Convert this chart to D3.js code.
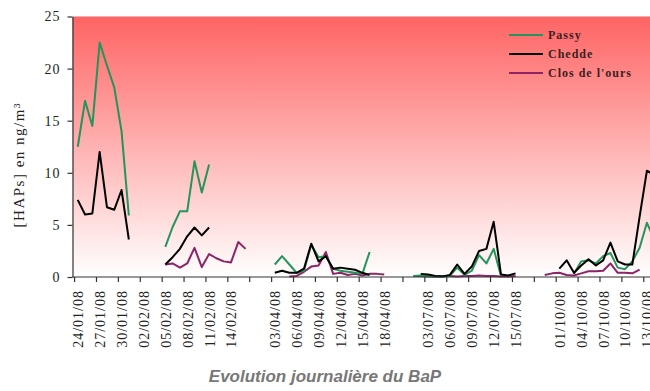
<!DOCTYPE html>
<html>
<head>
<meta charset="utf-8">
<script src="https://cdn.jsdelivr.net/npm/d3@7"></script>
<style>
  html, body { margin: 0; padding: 0; background: #ffffff; }
  svg { display: block; }
  svg text { font-family: "Liberation Serif", "Times New Roman", "DejaVu Serif", serif; }
  svg text.title { font-family: "Liberation Sans", Arial, sans-serif; }
</style>
</head>
<body>
<div id="chart"></div>
<script>
// ---- DATA ----
const categories = [
  "24/01/08","25/01/08","26/01/08","27/01/08","28/01/08","29/01/08","30/01/08","31/01/08",
  "01/02/08","02/02/08","03/02/08","04/02/08","05/02/08","06/02/08","07/02/08","08/02/08",
  "09/02/08","10/02/08","11/02/08","12/02/08","13/02/08","14/02/08","15/02/08","16/02/08",
  "",
  "01/04/08","02/04/08","03/04/08","04/04/08","05/04/08","06/04/08","07/04/08","08/04/08",
  "09/04/08","10/04/08","11/04/08","12/04/08","13/04/08","14/04/08","15/04/08","16/04/08",
  "17/04/08","18/04/08","19/04/08","20/04/08",
  "",
  "01/07/08","02/07/08","03/07/08","04/07/08","05/07/08","06/07/08","07/07/08","08/07/08",
  "09/07/08","10/07/08","11/07/08","12/07/08","13/07/08","14/07/08","15/07/08","16/07/08",
  "17/07/08",
  "",
  "29/09/08","30/09/08","01/10/08","02/10/08","03/10/08","04/10/08","05/10/08","06/10/08",
  "07/10/08","08/10/08","09/10/08","10/10/08","11/10/08","12/10/08","13/10/08","14/10/08",
  "15/10/08"
];

const passy = [
  12.5,16.9,14.5,22.5,20.3,18.2,14.0,5.9,
  null,null,null,null,2.9,4.8,6.3,6.3,
  11.1,8.1,10.8,null,null,null,null,null,
  null,
  null,null,1.2,2.0,1.2,0.4,0.6,3.1,
  1.9,2.0,0.8,0.6,0.5,0.4,0.3,2.4,
  null,null,null,null,
  null,
  0.1,0.15,0.1,0.05,0.05,0.1,0.9,0.2,
  0.6,2.1,1.3,2.7,0.1,null,null,null,
  null,
  null,
  null,null,null,null,0.3,1.5,1.6,1.3,
  2.0,2.3,0.9,0.75,1.5,2.8,5.2,3.6,
  null
];

const chedde = [
  7.4,6.0,6.1,12.0,6.7,6.45,8.35,3.6,
  null,null,null,null,1.2,1.9,2.7,3.9,
  4.75,4.0,4.75,null,null,null,null,null,
  null,
  null,null,0.4,0.6,0.4,0.4,0.8,3.2,
  1.5,2.0,0.8,0.9,0.8,0.7,0.4,0.2,
  null,null,null,null,
  null,
  null,0.3,0.25,0.1,0.05,0.2,1.2,0.3,
  1.0,2.5,2.7,5.3,0.25,0.15,0.35,null,
  null,
  null,
  null,null,0.8,1.6,0.4,1.1,1.7,1.1,
  1.6,3.3,1.5,1.2,1.2,5.8,10.2,9.8,
  null
];

const closDeLours = [
  null,null,null,null,null,null,null,null,
  null,null,null,null,1.2,1.3,0.9,1.3,
  2.8,0.95,2.2,1.8,1.5,1.4,3.35,2.7,
  null,
  null,null,null,null,0.05,0.1,0.5,1.0,
  1.1,2.4,0.3,0.4,0.2,0.3,0.15,0.3,
  0.3,0.25,null,null,
  null,
  0.1,0.1,0.05,0.05,0.1,0.1,0.05,0.1,
  0.1,0.15,0.1,0.1,0.05,0.05,0.1,null,
  null,
  null,
  0.2,0.35,0.4,0.2,0.15,0.35,0.55,0.55,
  0.6,1.3,0.4,0.4,0.35,0.7,null,null,
  null
];

const seriesNames = ["Passy", "Chedde", "Clos de l'ours"];
const seriesColors = ["#23945a", "#000000", "#8c2466"];
const yTicks = [0, 5, 10, 15, 20, 25];
const titleText = "Evolution journalière du BaP";
const yTitle = "[HAPs] en ng/m³";

// ---- LAYOUT ----
const W = 650, H = 391;
const plotLeft = 72.5, plotTop = 16.5, plotBottom = 277;
const catW = 7.297;
const N = categories.length;
const serif = "'Liberation Serif', 'Times New Roman', 'DejaVu Serif', serif";

const svg = d3.select("#chart").append("svg")
  .attr("width", W).attr("height", H);

const defs = svg.append("defs");
const grad = defs.append("linearGradient").attr("id", "bg")
  .attr("x1", 0).attr("y1", 0).attr("x2", 0).attr("y2", 1);
grad.append("stop").attr("offset", "0%").attr("stop-color", "#ff6464");
grad.append("stop").attr("offset", "100%").attr("stop-color", "#ffffff");

const xBand = d3.scaleBand()
  .domain(d3.range(N))
  .range([plotLeft + 1.6, plotLeft + 1.6 + N * catW])
  .padding(0);
const xc = i => xBand(i) + xBand.bandwidth() / 2;
const xLin = d3.scaleLinear().domain([-0.5, N - 0.5]).range(xBand.range());

const y = d3.scaleLinear().domain([0, 25]).range([plotBottom, plotTop]);

// background
svg.append("rect")
  .attr("x", plotLeft).attr("y", plotTop)
  .attr("width", W - plotLeft).attr("height", plotBottom - plotTop)
  .attr("fill", "url(#bg)");

// lines
const seriesData = [passy, chedde, closDeLours];
const line = d3.line()
  .defined(d => d.v !== null)
  .x(d => xc(d.i))
  .y(d => y(d.v));

const order = [2, 0, 1];
order.forEach(k => {
  const pts = seriesData[k].map((v, i) => ({ i, v }));
  svg.append("path")
    .datum(pts)
    .attr("d", line)
    .attr("fill", "none")
    .attr("stroke", seriesColors[k])
    .attr("stroke-width", 2)
    .attr("stroke-linejoin", "round");
});

// y axis
const yAxis = svg.append("g")
  .attr("transform", `translate(${plotLeft},0)`)
  .call(d3.axisLeft(y).tickValues(yTicks).tickSize(5).tickSizeOuter(0).tickPadding(7));
yAxis.attr("font-family", serif);
yAxis.select(".domain").attr("stroke", "#333").attr("stroke-width", 1.2);
yAxis.selectAll(".tick line").attr("stroke", "#333").attr("stroke-width", 1.2);
yAxis.selectAll(".tick text")
  .attr("font-family", serif)
  .style("font-size", "14px")
  .style("letter-spacing", "1px")
  .attr("fill", "#222");

// x axis: ticks at category boundaries every 3 categories
const tickBounds = d3.range(-0.5, N, 3);
const xAxis = svg.append("g")
  .attr("transform", `translate(0,${plotBottom})`)
  .call(d3.axisBottom(xLin).tickValues(tickBounds).tickSize(5).tickSizeOuter(0).tickFormat(""));
xAxis.select(".domain").attr("stroke", "#333").attr("stroke-width", 1.2)
  .attr("d", `M${plotLeft},0H${W}`);
xAxis.selectAll(".tick line").attr("stroke", "#333").attr("stroke-width", 1.2);

// x labels every 3 categories
const labelIdx = d3.range(0, N, 3);
const xLabels = svg.append("g")
  .attr("transform", `translate(0,${plotBottom})`)
  .call(d3.axisBottom(xLin).tickValues(labelIdx).tickSize(0)
    .tickFormat(i => categories[i]));
xLabels.attr("font-family", serif);
xLabels.select(".domain").remove();
xLabels.selectAll(".tick text")
  .attr("transform", "rotate(-90)")
  .attr("x", -13)
  .attr("y", 0)
  .attr("dy", "0.35em")
  .style("text-anchor", "end")
  .attr("font-family", serif)
  .style("font-size", "14px")
  .style("letter-spacing", "1px")
  .attr("fill", "#222");

// y title
svg.append("text")
  .attr("transform", `translate(24,${(plotTop + plotBottom) / 2 + 18}) rotate(-90)`)
  .attr("text-anchor", "middle")
  .attr("font-family", serif)
  .style("font-size", "15px")
  .style("letter-spacing", "1.5px")
  .attr("fill", "#222")
  .text(yTitle);

// legend
const legend = svg.append("g");
seriesNames.forEach((name, k) => {
  const ly = 35 + k * 19;
  legend.append("line")
    .attr("x1", 509).attr("x2", 543)
    .attr("y1", ly).attr("y2", ly)
    .attr("stroke", seriesColors[k]).attr("stroke-width", 2);
  legend.append("text")
    .attr("x", 548).attr("y", ly + 4)
    .attr("font-family", serif)
    .style("font-size", "12px")
    .style("font-weight", "bold")
    .style("letter-spacing", "1px")
    .attr("fill", "#3a2222")
    .text(name);
});

// title
svg.append("text")
  .attr("class", "title")
  .attr("x", 325).attr("y", 382)
  .attr("text-anchor", "middle")
  .style("font-size", "17px")
  .style("font-weight", "bold")
  .style("font-style", "italic")
  .attr("fill", "#777777")
  .text(titleText);
</script>
</body>
</html>
